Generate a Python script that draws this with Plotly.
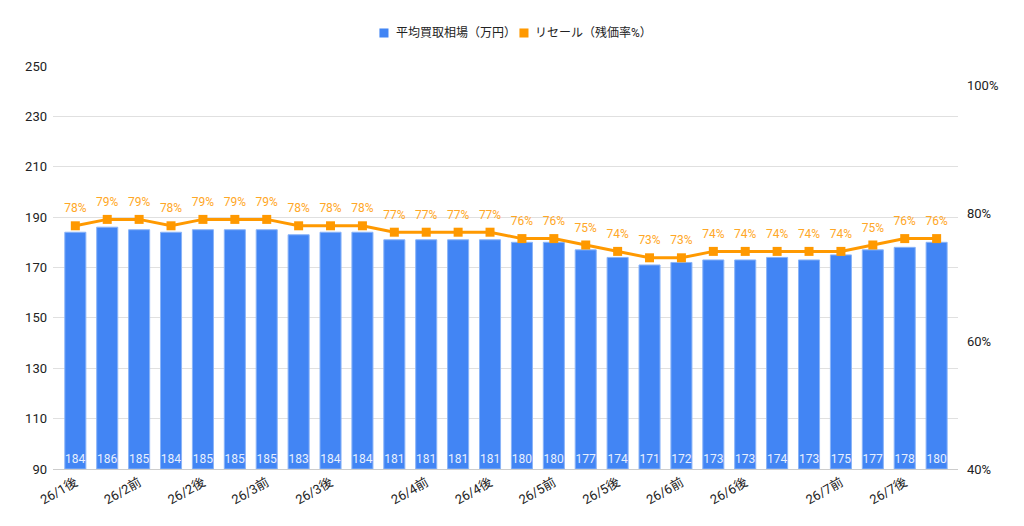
import plotly.graph_objects as go

# 期間ラベル（棒ごと）
periods = [
    "26/1後", "26/1後",
    "26/2前", "26/2前",
    "26/2後", "26/2後",
    "26/3前", "26/3前",
    "26/3後", "26/3後", "26/3後",
    "26/4前", "26/4前",
    "26/4後", "26/4後",
    "26/5前", "26/5前",
    "26/5後", "26/5後",
    "26/6前", "26/6前",
    "26/6後", "26/6後", "26/6後",
    "26/7前", "26/7前",
    "26/7後", "26/7後",
]
# 平均買取相場（万円）
avg_price = [184, 186, 185, 184, 185, 185, 185, 183, 184, 184, 181, 181, 181, 181,
             180, 180, 177, 174, 171, 172, 173, 173, 174, 173, 175, 177, 178, 180]
# 残価率（%）
resale_rate = [78, 79, 79, 78, 79, 79, 79, 78, 78, 78, 77, 77, 77, 77,
               76, 76, 75, 74, 73, 73, 74, 74, 74, 74, 74, 75, 76, 76]

# 軸の目盛り
price_ticks = [90, 110, 130, 150, 170, 190, 210, 230, 250]
rate_ticks = [40, 60, 80, 100]

FONT = "Roboto, 'Noto Sans CJK JP', sans-serif"
BLUE = "#4285F4"
ORANGE = "#FF9900"

idx = list(range(len(periods)))
axis_min = price_ticks[0]

# 各期間の最初の棒にだけ目盛りを出す
tick_vals = []
tick_text = []
for i, p in enumerate(periods):
    if i == 0 or periods[i - 1] != p:
        tick_vals.append(i)
        tick_text.append(p)

fig = go.Figure()

# 棒は軸の下端から立ち上げる（ラベルを棒の下側に置くため）
fig.add_trace(go.Bar(
    x=idx, y=[v - axis_min for v in avg_price], base=axis_min,
    name="平均買取相場（万円）",
    showlegend=False,
    marker=dict(color=BLUE, line=dict(color="#8AB4F8", width=1)),
    text=[str(v) for v in avg_price],
    textposition="inside",
    insidetextanchor="start",
    constraintext="none",
    textfont=dict(color="#E8F0FE", size=12, family=FONT),
    textangle=0,
    customdata=avg_price,
    hovertemplate="%{customdata}<extra></extra>",
    yaxis="y",
))

fig.add_trace(go.Scatter(
    x=idx, y=resale_rate,
    name="リセール（残価率%）",
    showlegend=False,
    mode="lines+markers",
    line=dict(color=ORANGE, width=3),
    marker=dict(symbol="square", size=9, color=ORANGE),
    yaxis="y2",
))

# ラベルは透明な大きめマーカーで少し上に離す
fig.add_trace(go.Scatter(
    x=idx, y=resale_rate,
    showlegend=False,
    mode="markers+text",
    marker=dict(size=15, color="rgba(0,0,0,0)"),
    text=[f"{v}%" for v in resale_rate],
    textposition="top center",
    textfont=dict(color="#FFA726", size=12, family=FONT),
    cliponaxis=False,
    hoverinfo="skip",
    yaxis="y2",
))

# 凡例（四角＋テキスト）
legend_items = [
    ("平均買取相場（万円）", BLUE, 0.3657, 0.3768),
    ("リセール（残価率%）", ORANGE, 0.5204, 0.5304),
]
leg_y = 1.0819
for name, color, sx, tx in legend_items:
    fig.add_shape(
        type="rect", xref="paper", yref="paper",
        x0=sx - 0.0050, x1=sx + 0.0050,
        y0=leg_y - 0.0112, y1=leg_y + 0.0112,
        fillcolor=color, line=dict(width=0),
    )
    fig.add_annotation(
        x=tx, y=leg_y, xref="paper", yref="paper",
        text=name, showarrow=False,
        xanchor="left", yanchor="middle",
        font=dict(size=12, color="#222222", family=FONT),
    )

# ページの body 余白 (8px) ぶんを差し引いた余白
fig.update_layout(
    width=1024, height=526,
    margin=dict(l=45, r=74, t=58, b=65),
    paper_bgcolor="white",
    plot_bgcolor="white",
    font=dict(family=FONT, size=13, color="#222222"),
    bargap=0.34,
    showlegend=False,
    xaxis=dict(
        range=[-0.7, 27.67],
        tickmode="array",
        tickvals=tick_vals,
        ticktext=tick_text,
        tickangle=-30,
        showgrid=False,
        showline=True,
        linecolor="#CCCCCC",
        ticks="",
        automargin=False,
        tickfont=dict(size=13, color="#222222"),
    ),
    yaxis=dict(
        range=[price_ticks[0], price_ticks[-1]],
        tickmode="array",
        tickvals=price_ticks,
        gridcolor="#E0E0E0",
        zeroline=False,
        ticks="",
        automargin=False,
        ticklabelstandoff=5,
        tickfont=dict(size=13, color="#222222"),
    ),
    yaxis2=dict(
        overlaying="y",
        side="right",
        range=[40, 102.97],
        tickmode="array",
        tickvals=rate_ticks,
        ticktext=[f"{v}%" for v in rate_ticks],
        showgrid=False,
        zeroline=False,
        ticks="",
        automargin=False,
        ticklabelstandoff=8,
        tickfont=dict(size=13, color="#222222"),
    ),
)

fig.write_html("out.html")
